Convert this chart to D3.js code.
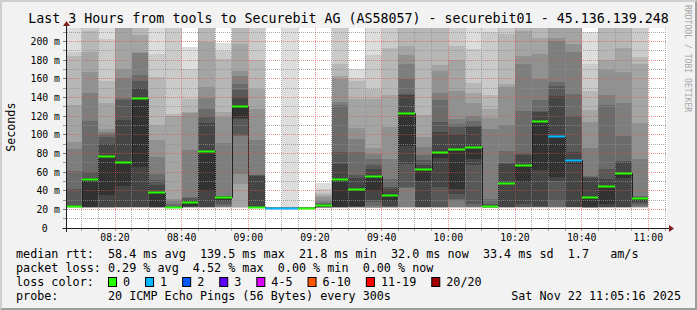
<!DOCTYPE html>
<html>
<head>
<meta charset="utf-8">
<script src="https://cdn.jsdelivr.net/npm/d3@7"></script>
<style>
html, body { margin: 0; padding: 0; background: #fff; }
svg { display: block; }
text { font-family: "DejaVu Sans Mono", monospace; white-space: pre; fill: #000; }
</style>
</head>
<body>
<svg id="chart" width="697" height="310"></svg>
<script>
const title = "Last 3 Hours from tools to Securebit AG (AS58057) - securebit01 - 45.136.139.248"

// 5 minute rounds, first bar ends 08:10, last one 11:00
const firstBarEnd = "08:10:00"
const barMinutes = 5

// 20 sorted ping rtts (ms) per round, values above ~214 run off the top
const pings = [
  [21.8,21.9,22.0,22.1,22.2,22.3,22.5,22.7,23.0,23.5,24.0,25.0,42,61,85,92,132,184,189,240],
  [21.8,21.8,21.9,21.9,22.0,22.0,22.1,22.1,22.2,22.3,52.5,53.5,60,115,145,167,189,211,225,260],
  [21.8,21.8,21.9,21.9,22.0,22.0,22.1,22.2,22.4,35,77.5,90,97,100.7,102.5,106,134,158,202,240],
  [21.8,21.8,21.9,22.0,22.0,22.1,22.2,22.3,22.5,45,70.4,116,137,139,161,170,225,235,245,260],
  [21.8,21.9,21.9,22.0,22.1,22.2,22.3,22.4,22.6,65,139.3,150,157,164,187,189,207,225,240,260],
  [21.8,21.8,21.9,21.9,22.0,22.0,22.1,22.2,22.3,22.4,39,46,51,58,76,94,110,162,186,240],
  [21.6,21.7,21.7,21.8,21.8,21.8,21.9,21.9,21.9,22.0,22.0,23,24,25.7,28.6,31,120,122,225,240],
  [21.8,21.9,21.9,22.0,22.1,22.2,22.3,22.5,22.8,24,28.2,30.4,32,33,84,123.6,124,138,170,194],
  [21.8,21.8,21.9,22.0,22.0,22.1,22.2,22.3,22.4,40,83,113,118.6,127.5,139,151,199,225,240,260],
  [21.8,21.9,22.0,22.1,22.3,22.6,24,25.7,29.3,30,33.6,34,34.3,34.6,90.7,118.6,124,181,190,198],
  [21.8,21.9,22.0,22.2,47,58,99,99.6,117,117.5,131,140,148,154,163,168.6,197,225,240,260],
  [21.6,21.7,21.7,21.8,21.8,21.8,21.9,21.9,21.9,22.0,22.0,56,56.5,57,94,127,149,180,230,250],
  [21.5,21.6,21.6,21.7,21.7,21.7,21.8,21.8,21.8,21.8,21.8,21.9,21.9,21.9,22.0,22.0,22.1,22.1,22.2,22.3],
  [21.5,21.6,21.6,21.7,21.7,21.7,21.8,21.8,21.8,21.8,21.8,21.9,21.9,21.9,22.0,22.0,22.1,22.2,22.4,260],
  [21.5,21.6,21.6,21.7,21.7,21.7,21.8,21.8,21.8,21.8,21.8,21.9,21.9,22.0,22.0,22.1,22.1,22.2,22.3,22.5],
  [21.7,21.8,21.8,21.9,21.9,22.0,22.0,22.1,22.1,22.2,25,25.4,26,26.8,29.3,33,35.7,38,42,48],
  [21.8,21.8,21.9,21.9,22.0,22.0,22.1,22.1,22.2,22.3,53,68.6,81,132,135,160,163,176,225,240],
  [21.8,21.8,21.9,22.0,22.1,22.2,22.3,22.5,23,24,42,54,57,81,95,107,138,157,161,170],
  [21.8,21.8,21.9,21.9,22.0,22.2,24,27.5,30,40,56,63,67,74,79,86,138,149,185,240],
  [21.8,21.8,21.9,22.0,22.1,22.2,22.4,23,24,29.3,35.4,42,43.6,52.5,74,108.6,142,193,225,240],
  [21.8,21.9,22.0,22.1,22.3,22.6,43,43.6,69,88,123.6,142,143.6,160,176,185,195,225,240,260],
  [21.8,21.8,21.9,22.0,22.1,22.2,22.3,22.4,22.6,50.7,62.7,67.6,73,78,87,97,121,225,240,260],
  [21.8,21.8,21.9,22.0,22.1,22.2,22.4,22.6,43.6,74.6,81.8,102.5,114,137,145,168.6,175,225,240,260],
  [21.8,21.9,22.0,22.1,22.3,22.6,29.3,31,36.4,41.8,84.6,100.7,108,111,117,147,180,195,225,240],
  [21.8,21.9,22.0,22.1,22.3,22.6,22.8,25.7,67,74,87,108,110,115,120,134,145,155,192,240],
  [21.7,21.8,21.8,21.9,21.9,22.0,22.0,22.1,22.1,22.2,23.6,24.6,25.7,31,106,118,127.5,142,210,240],
  [21.8,21.8,21.9,22.0,22.0,22.1,22.2,22.3,22.5,47.5,48.6,68.6,70,83,110,151,154,208,225,240],
  [21.8,21.9,22.0,22.1,22.2,22.3,22.5,22.8,25.7,49,68,78.6,80,125.7,175.7,184.6,210.7,225,240,260],
  [21.8,21.9,22.0,22.1,22.2,22.3,22.5,22.8,24,62,115,124,125,137,160,186,204,225,240,260],
  [21.8,21.9,22.0,22.1,22.2,22.4,22.6,29.3,50.7,55,98.6,141.8,152.5,156,200,203.6,225,240,250,260],
  [21.8,21.9,22.0,22.1,22.2,22.3,22.4,22.6,22.8,68.6,72.9,81,120,143.6,189,197,225,240,250,260],
  [21.7,21.8,21.8,21.9,21.9,22.0,22.0,22.1,22.1,22.2,33.6,53.6,55,56,85.7,114,126,147,175.7,209.6],
  [21.8,21.8,21.9,22.0,22.1,22.2,22.3,22.4,22.6,25.7,45,52.5,63,132,143,169,180,225,240,260],
  [21.8,21.8,21.9,22.0,22.1,22.2,22.3,22.4,22.6,53.6,59.3,70.4,72,99,133.6,167,193,225,240,260],
  [21.8,21.9,22.0,22.1,22.4,22.6,24,25.7,27.5,29.3,31.8,32.5,33.6,34.6,74,112,176,183,225,240]
]

const median = [24,52.5,77.5,70.4,139.3,39,22,28.2,83,33.6,131,22,21.8,21.8,21.8,25,53,42,56,35.4,
  123.6,62.7,81.8,84.6,87,23.6,48.6,68,115,98.6,72.9,33.6,45,59.3,31.8]

const loss = [0,0,0,0,0,0,0,0,0,0,0,0,1,1,0,0,0,0,0,0,0,0,0,0,0,0,0,0,0,1,1,0,0,0,0]

const yTicks = [0,20,40,60,80,100,120,140,160,180,200]
const timeTicks = ["08:20","08:40","09:00","09:20","09:40","10:00","10:20","10:40","11:00"]

const lossLabels = ["0","1","2","3","4-5","6-10","11-19","20/20"]
const lossColors = ["#26ff00","#00b8ff","#0059ff","#5e00ff","#dd00ff","#ff5500","#ff0000","#a10000"]

const statLines = [
  "median rtt:  58.4 ms avg  139.5 ms max  21.8 ms min  32.0 ms now  33.4 ms sd  1.7   am/s",
  "packet loss: 0.29 % avg  4.52 % max  0.00 % min  0.00 % now",
  "loss color:",
  "probe:       20 ICMP Echo Pings (56 Bytes) every 300s"
]
const stamp = "Sat Nov 22 11:05:16 2025"

const W = 697, H = 310
const plot = {left: 67, right: 667, top: 28, bottom: 228}
const gridCol = "rgba(143,143,143,0.75)"
const mgridCol = "rgba(222,79,79,0.6)"

const parseT = d3.timeParse("%H:%M:%S")
const x = d3.scaleTime()
  .domain([parseT("08:05:36"), parseT("11:05:36")])
  .range([plot.left, plot.right])
const y = d3.scaleLinear().domain([0, 214.3]).range([plot.bottom, plot.top])

const svg = d3.select("#chart")

// background + 3d border
svg.append("rect").attr("width", W).attr("height", H).attr("fill", "#f2f2f2")
svg.append("path").attr("d", `M0,${H}L2,${H-2}L2,2L${W-2},2L${W},0L0,0Z`).attr("fill", "#cfcfcf")
svg.append("path").attr("d", `M2,${H-2}L${W-2},${H-2}L${W-2},2L${W},0L${W},${H}L0,${H}Z`).attr("fill", "#9e9e9e")

svg.append("rect")
  .attr("x", plot.left).attr("y", plot.top)
  .attr("width", plot.right - plot.left).attr("height", plot.bottom - plot.top)
  .attr("fill", "#fff")

svg.append("clipPath").attr("id", "clip")
  .append("rect")
  .attr("x", plot.left).attr("y", plot.top)
  .attr("width", plot.right - plot.left).attr("height", plot.bottom - plot.top)

const firstEnd = parseT(firstBarEnd)
const rounds = pings.map((p, i) => ({
  p, med: median[i], loss: loss[i],
  t0: d3.timeMinute.offset(firstEnd, barMinutes * (i - 1)),
  t1: d3.timeMinute.offset(firstEnd, barMinutes * i)
}))
const px = t => Math.round(x(t))
const py = v => Math.round(y(v))

// smoke: pairs (1,20), (2,19) ... (10,11), darker toward the middle
const smoke = svg.append("g").attr("clip-path", "url(#clip)").attr("shape-rendering", "crispEdges")
rounds.forEach(r => {
  for (let ib = 0; ib < 10; ib++) {
    const shade = Math.floor(190 / 10 * (10 - (ib + 1))) + 50
    const hi = r.p[19 - ib], lo = r.p[ib]
    smoke.append("rect")
      .attr("x", px(r.t0)).attr("width", px(r.t1) - px(r.t0))
      .attr("y", py(hi)).attr("height", Math.max(0, py(lo) - py(hi)))
      .attr("fill", d3.rgb(shade, shade, shade))
  }
})

// median step line
const stepPts = rounds.map(r => [r.t0, r.med]).concat([[rounds[rounds.length - 1].t1, median[median.length - 1]]])
svg.append("path")
  .attr("clip-path", "url(#clip)")
  .attr("d", d3.line().x(d => px(d[0]) + 0.5).y(d => py(d[1]) + 0.5).curve(d3.curveStepAfter)(stepPts))
  .attr("fill", "none").attr("stroke", "#202020").attr("stroke-width", 1)

// grid
const grid = svg.append("g").attr("shape-rendering", "crispEdges")
d3.range(10, 215, 10).forEach(v => {
  const yy = Math.floor(y(v)) + 0.5
  const c = v % 20 === 0 ? mgridCol : gridCol
  grid.append("line").attr("x1", plot.left).attr("x2", plot.right).attr("y1", yy).attr("y2", yy)
    .attr("stroke", c).attr("stroke-dasharray", "1,1")
  grid.append("line").attr("x1", plot.left - 4).attr("x2", plot.left - 1).attr("y1", yy).attr("y2", yy)
    .attr("stroke", v % 20 === 0 ? "#777" : "#999")
})
d3.timeMinute.every(5).range(x.domain()[0], x.domain()[1]).forEach(t => {
  const xx = Math.floor(x(t)) + 0.5
  const major = t.getMinutes() % 20 === 0
  grid.append("line").attr("x1", xx).attr("x2", xx).attr("y1", plot.top).attr("y2", plot.bottom)
    .attr("stroke", major ? mgridCol : gridCol).attr("stroke-dasharray", "1,1")
  grid.append("line").attr("x1", xx).attr("x2", xx).attr("y1", plot.bottom + 1).attr("y2", plot.bottom + 3)
    .attr("stroke", major ? mgridCol : gridCol)
})

// loss-coloured median segments
const lossColor = n => n === 0 ? lossColors[0] : n <= 3 ? lossColors[n] : n <= 5 ? lossColors[4]
  : n <= 10 ? lossColors[5] : n <= 19 ? lossColors[6] : lossColors[7]
svg.append("g").attr("clip-path", "url(#clip)").selectAll("line")
  .data(rounds).join("line")
  .attr("x1", d => px(d.t0)).attr("x2", d => px(d.t1))
  .attr("y1", d => py(d.med) + 0.5).attr("y2", d => py(d.med) + 0.5)
  .attr("stroke", d => lossColor(d.loss)).attr("stroke-width", 2)

// axes with arrows
svg.append("line").attr("x1", plot.left - 4.5).attr("x2", plot.right + 3.5)
  .attr("y1", plot.bottom + 0.5).attr("y2", plot.bottom + 0.5).attr("stroke", "#1f1f1f")
svg.append("line").attr("x1", plot.left - 0.5).attr("x2", plot.left - 0.5)
  .attr("y1", plot.bottom + 4).attr("y2", plot.top - 3).attr("stroke", "#1f1f1f")
svg.append("path").attr("d", `M${plot.right + 2},${plot.bottom - 3}L${plot.right + 2},${plot.bottom + 4}L${plot.right + 7},${plot.bottom + 0.5}Z`)
  .attr("fill", "#7f1f1f")
svg.append("path").attr("d", `M${plot.left - 4},${plot.top - 2}L${plot.left + 3},${plot.top - 2}L${plot.left - 0.5},${plot.top - 7}Z`)
  .attr("fill", "#7f1f1f")

// tick labels
svg.append("g").selectAll("text").data(yTicks).join("text")
  .attr("x", d => d === 0 ? 44.7 : 60)
  .attr("y", d => y(d) + 3.5)
  .attr("text-anchor", d => d === 0 ? "middle" : "end")
  .attr("font-size", 9.8)
  .text(d => d === 0 ? "0" : d + " m")

const parseHM = d3.timeParse("%H:%M")
svg.append("g").selectAll("text").data(timeTicks).join("text")
  .attr("x", d => x(parseHM(d)))
  .attr("y", 241.3)
  .attr("text-anchor", "middle")
  .attr("font-size", 9.8)
  .text(d => d)

svg.append("text")
  .attr("transform", "translate(15,127.2) rotate(-90)")
  .attr("text-anchor", "middle").attr("font-size", 11.7)
  .text("Seconds")

svg.append("text")
  .attr("x", W / 2).attr("y", 23).attr("text-anchor", "middle").attr("font-size", 13.3)
  .text(title)

svg.append("text")
  .attr("transform", "translate(685,5) rotate(90)")
  .attr("font-size", 8.1).style("fill", "#a6a6a6")
  .text("RRDTOOL / TOBI OETIKER")

// legend
const rowY = [258.3, 272.3, 286.3, 300]
svg.append("g").selectAll("text").data(statLines).join("text")
  .attr("x", 16).attr("y", (d, i) => rowY[i]).attr("font-size", 11.76)
  .text(d => d)
svg.append("text").attr("x", 681).attr("y", rowY[3]).attr("text-anchor", "end")
  .attr("font-size", 11.76).text(stamp)

const charW = 7.08
let lx = 108
const lg = svg.append("g")
lossLabels.forEach((lab, i) => {
  lg.append("rect").attr("x", lx + 0.5).attr("y", 277.5).attr("width", 8).attr("height", 9)
    .attr("fill", lossColors[i]).attr("stroke", "#000").attr("stroke-width", 1)
  lg.append("text").attr("x", lx + 15).attr("y", rowY[2]).attr("font-size", 11.76).text(lab)
  lx += 30 + lab.length * charW
})
</script>
</body>
</html>
